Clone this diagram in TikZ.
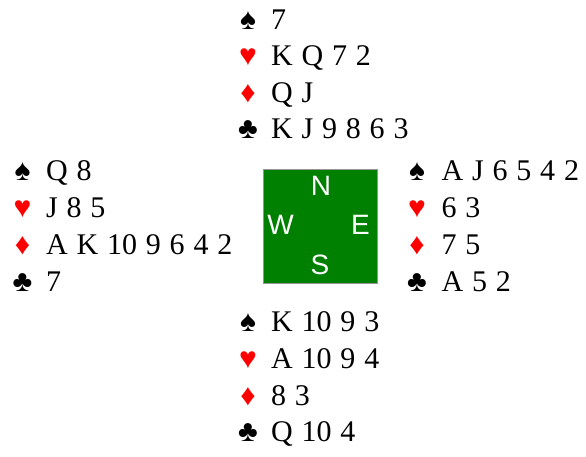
\documentclass[tikz,border=0pt]{standalone}
\usepackage{fontspec}
\setmainfont{Liberation Serif}
\newfontfamily\compassfont{Liberation Sans}
\definecolor{suitred}{RGB}{255,0,0}
\definecolor{tablegreen}{RGB}{0,128,0}
\definecolor{tableedge}{RGB}{150,150,150}
\tikzset{
  cards/.style={inner sep=0pt, anchor=base west, font={\fontsize{30}{30}\selectfont\spaceskip=8.8pt\relax}},
  suitblack/.style={inner sep=0pt, anchor=base, font={\fontsize{30}{30}\selectfont}, text=black},
  suitredst/.style={inner sep=0pt, anchor=base, font={\fontsize{30}{30}\selectfont}, text=suitred},
  compass/.style={inner sep=0pt, anchor=base, text=white, font={\compassfont\fontsize{28}{28}\selectfont}},
  table/.style={fill=tablegreen, draw=tableedge, line width=1pt}
}
\begin{document}
\begin{tikzpicture}[x=1pt,y=-1pt]
\useasboundingbox (0,0) rectangle (586,456);
% centre table
\node[table, minimum width=114pt, minimum height=114pt, inner sep=0pt] (tbl) at (320.8,226) {};
\node[compass] (cN) at (321,195) {N};
\node[compass] (cW) at (280.5,234) {W};
\node[compass] (cE) at (360.5,234) {E};
\node[compass] (cS) at (320,274) {S};
% North
\node[suitblack] (ns) at (248,29) {♠};
\node[cards] (nS) at (271,29) {7};
\node[suitredst] (nh) at (248,65.5) {♥};
\node[cards] (nH) at (271,65.5) {K Q 7 2};
\node[suitredst] (nd) at (248,102) {♦};
\node[cards] (nD) at (271,102) {Q J};
\node[suitblack] (nc) at (248,138.5) {♣};
\node[cards] (nC) at (271,138.5) {K J 9 8 6 3};
% West
\node[suitblack] (ws) at (22.5,180) {♠};
\node[cards] (wS) at (46,180) {Q 8};
\node[suitredst] (wh) at (22.5,217.5) {♥};
\node[cards] (wH) at (46,217.5) {J 8 5};
\node[suitredst] (wd) at (22.5,254.5) {♦};
\node[cards] (wD) at (46,254.5) {A K 10 9 6 4 2};
\node[suitblack] (wc) at (22.5,291.5) {♣};
\node[cards] (wC) at (46,291.5) {7};
% East
\node[suitblack] (es) at (417,180) {♠};
\node[cards] (eS) at (441.5,180) {A J 6 5 4 2};
\node[suitredst] (eh) at (417,217.5) {♥};
\node[cards] (eH) at (441.5,217.5) {6 3};
\node[suitredst] (ed) at (417,254.5) {♦};
\node[cards] (eD) at (441.5,254.5) {7 5};
\node[suitblack] (ec) at (417,291.5) {♣};
\node[cards] (eC) at (441.5,291.5) {A 5 2};
% South
\node[suitblack] (ss) at (248,331) {♠};
\node[cards] (sS) at (271,331) {K 10 9 3};
\node[suitredst] (sh) at (248,368) {♥};
\node[cards] (sH) at (271,368) {A 10 9 4};
\node[suitredst] (sd) at (248,405) {♦};
\node[cards] (sD) at (271,405) {8 3};
\node[suitblack] (sc) at (248,441.5) {♣};
\node[cards] (sC) at (271,441.5) {Q 10 4};
\end{tikzpicture}
\end{document}
